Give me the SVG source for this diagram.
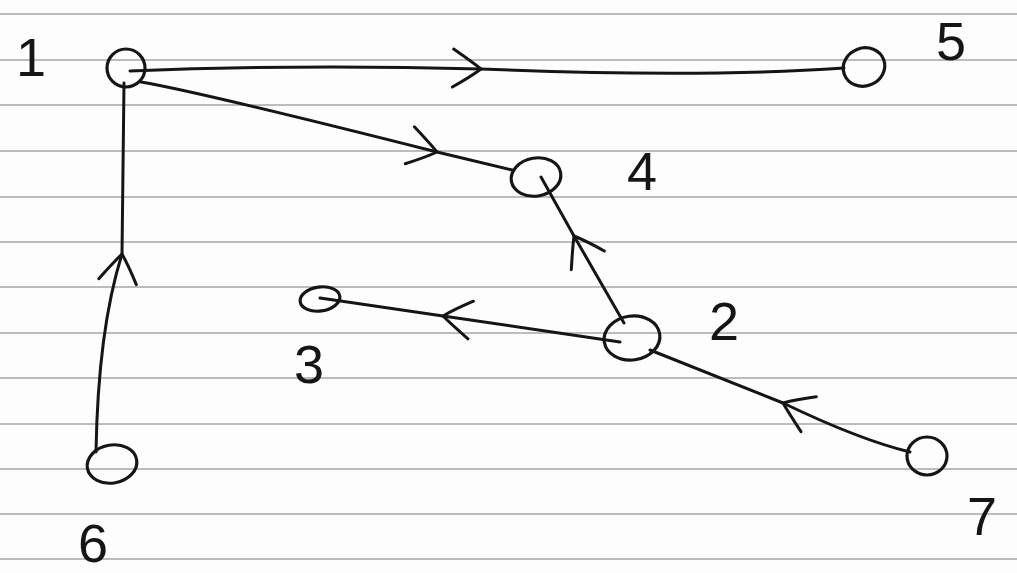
<svg xmlns="http://www.w3.org/2000/svg" width="1017" height="573" viewBox="0 0 1017 573">
<defs>
<style>
.rule{stroke:#bcbcbc;stroke-width:2.2;fill:none}
.node{fill:none;stroke:#151515;stroke-width:3.2}
.edge{fill:none;stroke:#151515;stroke-width:3;stroke-linecap:round;stroke-linejoin:round;marker-mid:url(#chev)}
.lbl{font-family:"Liberation Sans",Arial,sans-serif;font-size:54px;fill:#151515;text-anchor:middle}
</style>
<marker id="chev" markerUnits="userSpaceOnUse" viewBox="-40 -30 50 60" refX="0" refY="0" markerWidth="50" markerHeight="60" orient="auto" overflow="visible">
<path d="M-28,-19 Q-8,-6 0,0 Q-10,8 -28,19" fill="none" stroke="#151515" stroke-width="3" stroke-linecap="round"/>
</marker>
</defs>
<rect width="1017" height="573" fill="#fdfdfd"/>
<g id="paper">
<line class="rule" x1="0" y1="14" x2="1017" y2="14"/>
<line class="rule" x1="0" y1="60" x2="1017" y2="60"/>
<line class="rule" x1="0" y1="105" x2="1017" y2="105"/>
<line class="rule" x1="0" y1="151" x2="1017" y2="151"/>
<line class="rule" x1="0" y1="197" x2="1017" y2="197"/>
<line class="rule" x1="0" y1="242" x2="1017" y2="242"/>
<line class="rule" x1="0" y1="287" x2="1017" y2="287"/>
<line class="rule" x1="0" y1="333" x2="1017" y2="333"/>
<line class="rule" x1="0" y1="378" x2="1017" y2="378"/>
<line class="rule" x1="0" y1="424" x2="1017" y2="424"/>
<line class="rule" x1="0" y1="469" x2="1017" y2="469"/>
<line class="rule" x1="0" y1="514" x2="1017" y2="514"/>
<line class="rule" x1="0" y1="559" x2="1017" y2="559"/>
</g>
<g id="connectors">
<path id="e1-5" class="edge" d="M130,71 Q300,64 481,69 Q700,78 844,68"/>
<path id="e1-4" class="edge" d="M141,82 Q200,92 437,152 L512,170"/>
<path id="e2-4" class="edge" d="M624,323 L574,236 L541,177"/>
<path id="e2-3" class="edge" d="M620,342 Q540,330 443,316 L320,298"/>
<path id="e7-2" class="edge" d="M910,452 Q860,440 783,403 L650,350"/>
<path id="e6-1" class="edge" d="M96,452 Q98,330 122,254 L124,83"/>
</g>
<g id="node1"><ellipse class="node" cx="126" cy="68" rx="19" ry="19"/><text class="lbl" x="31" y="76">1</text></g>
<g id="node2"><ellipse class="node" cx="632" cy="338" rx="28" ry="22" transform="rotate(-8 632 338)"/><text class="lbl" x="724" y="340">2</text></g>
<g id="node3"><ellipse class="node" cx="320" cy="299" rx="20" ry="12" transform="rotate(-8 320 299)"/><text class="lbl" x="309" y="383">3</text></g>
<g id="node4"><ellipse class="node" cx="536" cy="177" rx="25" ry="19" transform="rotate(-10 536 177)"/><text class="lbl" x="642" y="190">4</text></g>
<g id="node5"><ellipse class="node" cx="864" cy="67" rx="21" ry="19" transform="rotate(-20 864 67)"/><text class="lbl" x="951" y="60">5</text></g>
<g id="node6"><ellipse class="node" cx="112" cy="464" rx="25" ry="19" transform="rotate(-10 112 464)"/><text class="lbl" x="93" y="562">6</text></g>
<g id="node7"><ellipse class="node" cx="927" cy="456" rx="20" ry="19"/><text class="lbl" x="982" y="535">7</text></g>
</svg>
